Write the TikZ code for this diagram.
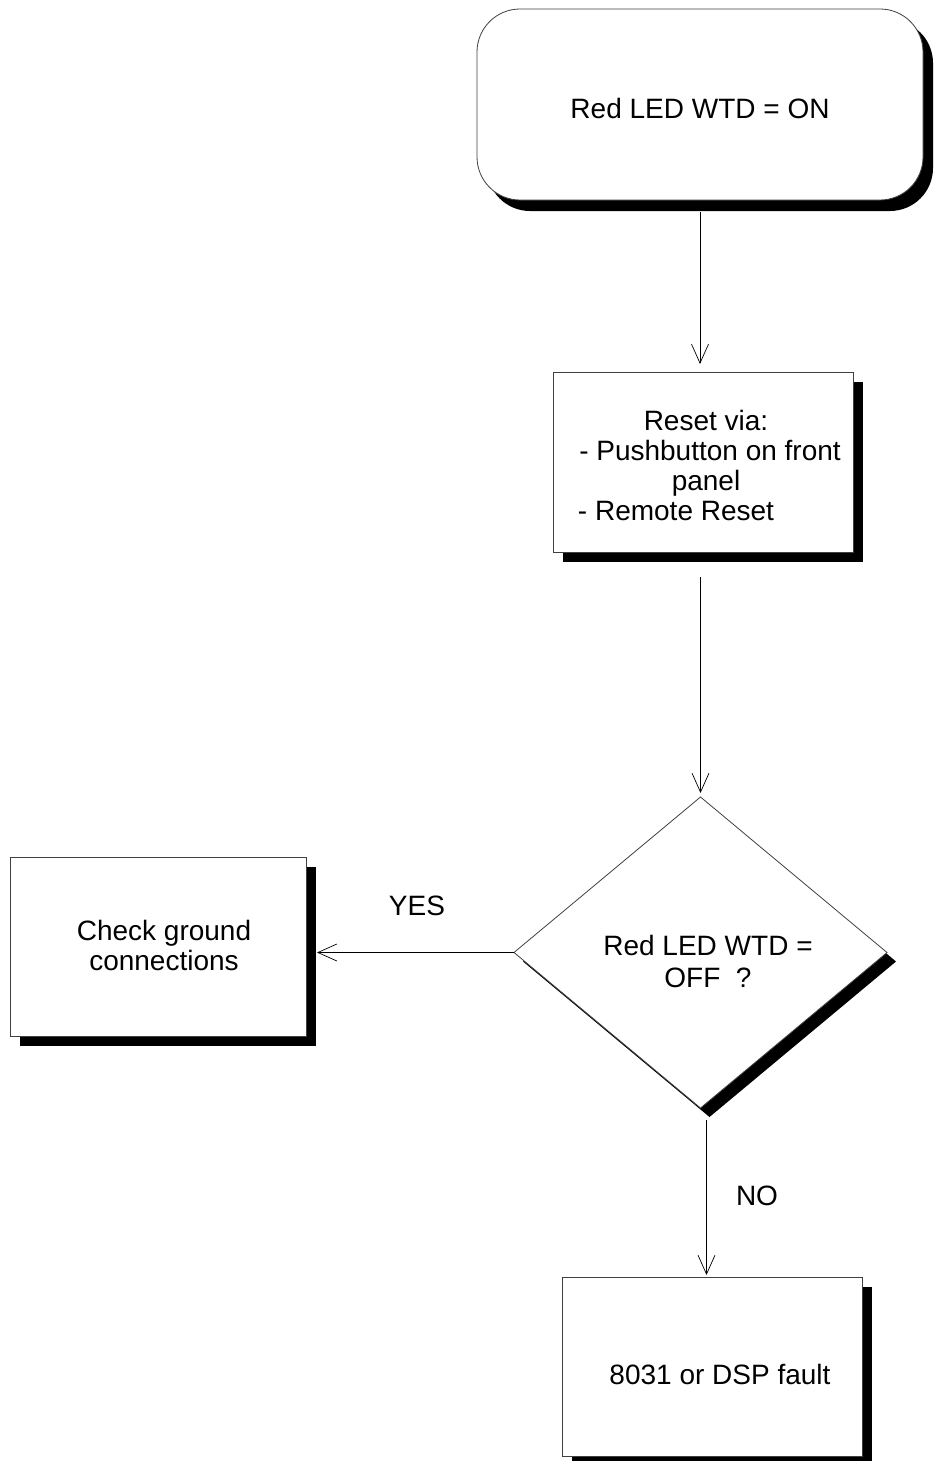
\documentclass[tikz,border=0pt]{standalone}
\usepackage{fontspec}
\setmainfont{Liberation Sans}
\usetikzlibrary{arrows.meta,shapes.geometric,shadows,calc}
\begin{document}
\begin{tikzpicture}[x=1pt,y=-1pt,
  every node/.style={inner sep=0pt, outer sep=0pt},
  txt/.style={font=\fontsize{28}{30}\selectfont, align=center, text=black},
  boxline/.style={draw=black!75, line width=0.8pt, fill=white},
  shadowed/.style={drop shadow={shadow xshift=10pt, shadow yshift=-10pt, fill=black, opacity=1}},
  procbox/.style={boxline, shadowed, rectangle},
  startbox/.style={boxline, rectangle, rounded corners=43pt,
    drop shadow={shadow xshift=10pt, shadow yshift=-11pt, fill=black, opacity=1}},
  decbox/.style={boxline, diamond, aspect=1.2,
    drop shadow={shadow xshift=9pt, shadow yshift=-9pt, fill=black, opacity=1}},
  conn/.style={draw=black, line width=0.7pt,
    -{Straight Barb[length=19pt, width=17pt, line width=0.7pt]}}
]
\useasboundingbox (0,0) rectangle (934,1461);

% boxes
\node[startbox, minimum width=446pt, minimum height=191pt] (start) at (700,104.5) {};
\node[procbox, minimum width=300pt, minimum height=180pt] (reset) at (703,462) {};
\node[decbox, minimum width=373pt, minimum height=311pt] (decision) at (700.5,952.5) {};
\node[procbox, minimum width=296pt, minimum height=179pt] (check) at (158,946.5) {};
\node[procbox, minimum width=300pt, minimum height=179pt] (fault) at (712,1366.5) {};

% texts
\node[txt] (starttext) at (700,108) {Red LED WTD = ON};
\node[txt] (resettext) at (706,465) {Reset via:\\ \hspace*{8pt}- Pushbutton on front\\ panel\\ - Remote Reset\hspace*{60pt}};
\node[txt, font=\fontsize{28}{32}\selectfont] (dectext) at (708,961) {Red LED WTD =\\ OFF\ \ ?};
\node[txt] (checktext) at (164,945.5) {Check ground\\ connections};
\node[txt] (faulttext) at (720,1374) {8031 or DSP fault};
\node[txt] (yes) at (417,906) {YES};
\node[txt] (no) at (757,1196) {NO};

% connectors
\draw[conn, shorten <=12pt, shorten >=8pt] (start.south) -- (start.south |- reset.north);
\draw[conn, shorten <=25pt, shorten >=4pt] (decision.north |- reset.south) -- (decision.north);
\draw[conn, shorten >=11pt] (decision.west) -- (decision.west -| check.east);
\coordinate (dout) at ($(decision.south)+(6,12)$);
\draw[conn, shorten >=2pt] (dout) -- (dout |- fault.north);
\end{tikzpicture}
\end{document}
